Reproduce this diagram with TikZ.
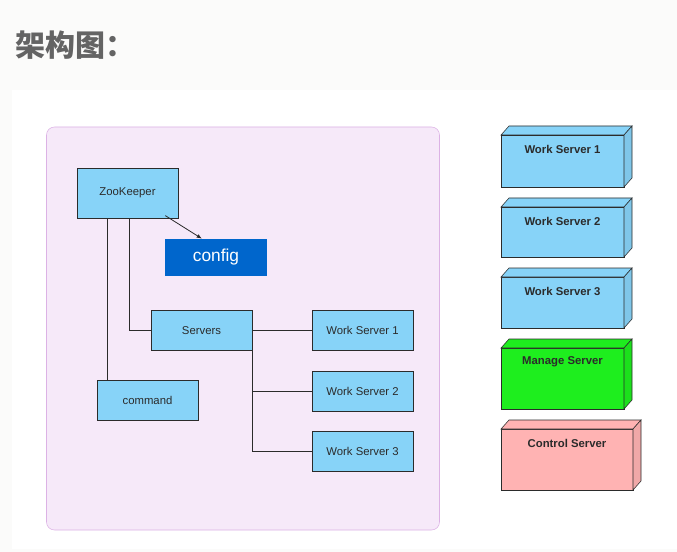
\documentclass[tikz,border=0pt]{standalone}
\usepackage{fontspec}
\setmainfont{Liberation Sans}
\newfontfamily\cjk{Noto Sans CJK SC}
\usepackage{tikz}
\usetikzlibrary{arrows.meta,positioning,calc}
\definecolor{paper}{HTML}{FBFBFA}
\definecolor{panel}{HTML}{F6E9F9}
\definecolor{panelline}{HTML}{DCB2E5}
\definecolor{sky}{HTML}{87D3F8}
\definecolor{cfgblue}{HTML}{0066CC}
\definecolor{mgreen}{HTML}{1EEE1E}
\definecolor{rose}{HTML}{FFB3B3}
\definecolor{titlegray}{HTML}{646464}
\definecolor{edge}{HTML}{2B2B2B}

% deployment node: name, left, top, width, height, fill, label
\newcommand{\umlnode}[7]{%
  \draw[edge,fill=#6] (#2,#3) rectangle ++(#4,#5);
  \draw[edge,fill=#6] (#2,#3) -- ++(8,-9) -- ++(#4,0) -- ++(-8,9) -- cycle;
  \draw[edge,fill=#6!94!black] ($(#2,#3)+(#4,0)$) -- ++(8,-9) -- ++(0,#5) -- ++(-8,9) -- cycle;
  \node[font=\fontsize{8.5}{10}\selectfont\bfseries,text=edge] (#1) at ($(#2,#3)+(#4/2,14)$) {#7};
}

\begin{document}
\begin{tikzpicture}[x=0.75pt,y=-0.75pt,>=Latex,
  box/.style={draw=edge,fill=sky,minimum width=75.75pt,minimum height=30pt,inner sep=0pt,
    font=\fontsize{8.5}{10}\selectfont,text=edge},
  wire/.style={edge,line width=.6pt}]
\useasboundingbox (0,0) rectangle (677,552);
% backgrounds
\fill[paper] (0,0) rectangle (677,552);
\fill[white] (12,90) rectangle (677,549);
\node[anchor=west,font=\cjk\bfseries\fontsize{22.5}{26}\selectfont,text=titlegray] (title) at (11,45) {架构图：};
\draw[panelline,fill=panel,rounded corners=6pt] (46.5,127) rectangle (439.5,530);

% left tree
\node[box,minimum height=37.5pt] (zk) at (127.5,193) {ZooKeeper};
\node[fill=cfgblue,text=white,minimum width=76.5pt,minimum height=27.75pt,inner sep=0pt,
  font=\fontsize{13}{15}\selectfont] (cfg) at (216,257.5) {config};
\node[box] (srv) at (201.5,330.5) {Servers};
\node[box] (cmd) at (147.5,400) {command};
\node[box] (wsa) at (362.5,330.5) {Work Server 1};
\node[box] (wsb) at (362.5,391) {Work Server 2};
\node[box] (wsc) at (362.5,451.5) {Work Server 3};

\draw[wire,-{Latex[length=4pt,width=3pt]}] ([xshift=-9.75pt,yshift=2pt]zk.south east) -- ([xshift=-10.5pt]cfg.north);
\draw[wire] (zk.south west) ++(31,0) coordinate (zkl) -- (zkl |- cmd.north);
\draw[wire] (zk.south west) ++(53,0) |- (srv.west);
\draw[wire] (srv.east) -- (wsa.west);
\draw[wire] (srv.south east) |- (wsb.west);
\draw[wire] (srv.south east) |- (wsc.west);

% right column
\umlnode{ndA}{501}{135}{123}{52}{sky}{Work Server 1}
\umlnode{ndB}{501}{207}{123}{50}{sky}{Work Server 2}
\umlnode{ndC}{501}{277}{123}{51}{sky}{Work Server 3}
\umlnode{ndM}{501}{348}{123}{61}{mgreen}{Manage Server}
\umlnode{ndK}{501}{429}{132}{61}{rose}{Control Server}
\end{tikzpicture}
\end{document}
